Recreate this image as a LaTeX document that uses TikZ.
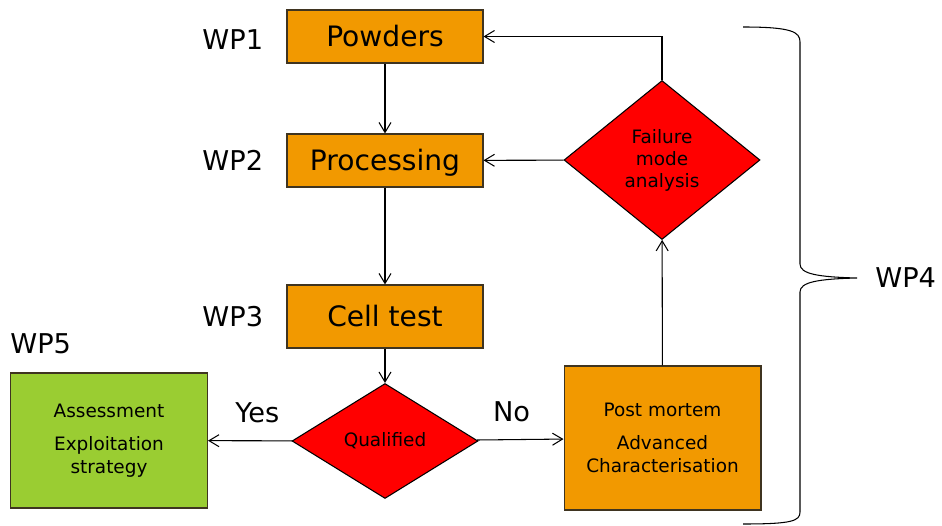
\documentclass[tikz,border=0pt]{standalone}
\usepackage{fontspec}
\setmainfont{DejaVu Sans}
\usepackage{tikz}
\usetikzlibrary{positioning,arrows.meta,shapes.geometric}

\definecolor{wporange}{HTML}{F29900}
\definecolor{wpred}{HTML}{FF0000}
\definecolor{wpgreen}{HTML}{9ACD32}
\definecolor{boxline}{HTML}{3F3420}

\begin{document}
\begin{tikzpicture}[
x=0.02cm, y=-0.02cm,
box/.style={draw=boxline, fill=wporange, line width=0.6pt, minimum width=3.92cm, minimum height=1.06cm, inner sep=0pt, text height=11.7pt, text depth=0pt, font=\fontsize{16}{19}\selectfont},
note/.style={draw=boxline, line width=0.6pt, minimum width=3.94cm, align=center, font=\fontsize{10.5}{13}\selectfont},
decision/.style={diamond, draw=black, fill=wpred, line width=0.6pt, inner sep=0pt, align=center, font=\fontsize{10.5}{12.5}\selectfont},
wp/.style={inner sep=0pt, font=\fontsize{15.5}{18}\selectfont},
arrow/.style={-{Straight Barb[length=2mm,width=2.4mm]}, line width=0.6pt}
]
\useasboundingbox (0,0) rectangle (942,526);

\node[box] (powders) at (385,36.5) {Powders};
\node[box] (processing) at (385,160.5) {Processing};
\node[box, minimum height=1.26cm] (celltest) at (385,316.5) {Cell test};
\node[decision, minimum width=3.72cm, minimum height=2.3cm] (qualified) at (385,441) {Qualified};
\node[note, fill=wpgreen, minimum height=2.7cm] (assess) at (109,440.5) {Assessment\\[6pt]Exploitation\\strategy};
\node[note, fill=wporange, minimum height=2.88cm] (postmortem) at (662.5,438) {Post mortem\\[6pt]Advanced\\Characterisation};
\node[decision, minimum width=3.92cm, minimum height=3.18cm] (failure) at (662,160) {Failure\\mode\\analysis};

\node[wp, left=0.46cm of powders, yshift=-2pt] (wp1) {WP1};
\node[wp, left=0.46cm of processing] (wp2) {WP2};
\node[wp, left=0.46cm of celltest] (wp3) {WP3};
\node[wp, above right=0.36cm and 0cm of assess.north west] (wp5) {WP5};

\draw[arrow] (powders) -- (processing);
\draw[arrow] (processing) -- (celltest);
\draw[arrow] (celltest) -- (qualified);
\draw[arrow] (qualified) -- (assess) node[wp, pos=0.41, above=0.34cm] (yes) {Yes};
\draw[arrow] (qualified) -- (postmortem) node[wp, pos=0.4, above=0.34cm] (no) {No};
\draw[arrow] (postmortem) -- (failure);
\draw[arrow] (failure) -- (processing);
\draw[arrow] (failure.north) |- (powders);

% brace round WP4
\draw[line width=0.6pt] (743,27) .. controls (792,27) and (800,32) .. (800,42) -- (800,264)
  .. controls (800,274) and (818,277) .. (857,278) coordinate (tip)
  .. controls (818,279) and (800,282) .. (800,292) -- (800,512)
  .. controls (800,521) and (792,524) .. (743,524);
\node[wp, right=0.36cm of tip] (wp4) {WP4};
\end{tikzpicture}
\end{document}
